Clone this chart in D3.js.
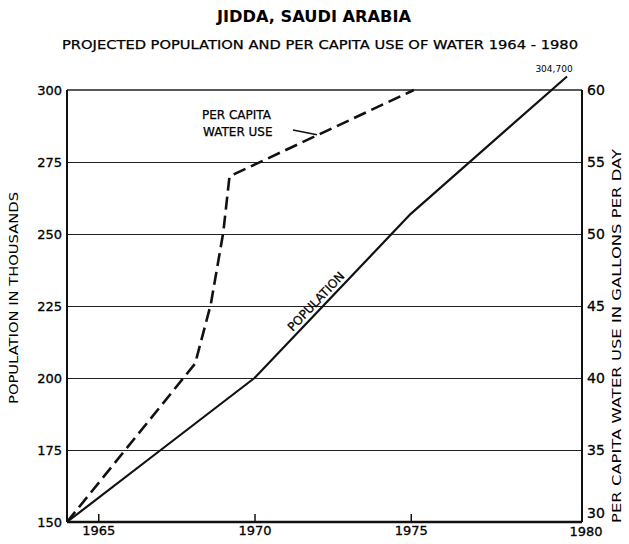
<!DOCTYPE html>
<html>
<head>
<meta charset="utf-8">
<script src="https://cdn.jsdelivr.net/npm/d3@7"></script>
<style>
  body { margin: 0; background: #fff; }
  text { font-family: "DejaVu Sans", "Liberation Sans", sans-serif; fill: #000; }
</style>
</head>
<body>
<svg id="chart"></svg>
<script>
// data
const popYears  = [1964, 1967, 1970, 1975, 1980];
const population = [150, 175, 200, 257, 304.7];          // thousands
const waterYears = [1964, 1968.1, 1968.6, 1969.0, 1969.2, 1975.1];
const waterUse   = [30, 41, 45.1, 50.1, 54, 60];          // gallons per day
const popTicks   = [150, 175, 200, 225, 250, 275, 300];
const waterTicks = [30, 35, 40, 45, 50, 55, 60];
const yearTicks  = [1965, 1970, 1975];

const W = 629, H = 544;
const margin = {top: 90, right: 47, bottom: 22, left: 67};

const svg = d3.select('#chart')
    .attr("width", W)
    .attr("height", H);

// x goes a little past 1980 so the frame reaches the right axis
var x = d3.scaleLinear().domain([1964, 1980.48]).range([margin.left, W - margin.right]);
var yPop = d3.scaleLinear().domain([150, 300]).range([H - margin.bottom, margin.top]);
var yWat = d3.scaleLinear().domain([30, 60]).range([H - margin.bottom, margin.top]);

const x0 = x.range()[0], x1 = x.range()[1];
const yb = yPop.range()[0], yt = yPop.range()[1];

// titles
svg.append("text")
    .attr("x", 314).attr("y", 22)
    .attr("text-anchor", "middle")
    .attr("font-size", 16).attr("font-weight", "bold")
    .attr("textLength", 194).attr("lengthAdjust", "spacingAndGlyphs")
    .text("JIDDA, SAUDI ARABIA");
svg.append("text")
    .attr("x", 320).attr("y", 49)
    .attr("text-anchor", "middle")
    .attr("font-size", 12)
    .attr("stroke", "#000").attr("stroke-width", 0.25)
    .attr("textLength", 516).attr("lengthAdjust", "spacingAndGlyphs")
    .text("PROJECTED  POPULATION  AND  PER  CAPITA  USE  OF  WATER  1964 - 1980");

// gridlines
svg.append("g")
    .selectAll("line")
    .data(popTicks.slice(1, -1))
    .enter().append("line")
    .attr("x1", x0).attr("x2", x1)
    .attr("y1", d => Math.round(yPop(d)) + 0.5).attr("y2", d => Math.round(yPop(d)) + 0.5)
    .attr("stroke", "#222").attr("stroke-width", 1);

// frame
svg.append("line").attr("x1", x0).attr("x2", x1).attr("y1", yt).attr("y2", yt)
    .attr("stroke", "#222").attr("stroke-width", 1.5);
svg.append("line").attr("x1", x1).attr("x2", x1).attr("y1", yt).attr("y2", yb)
    .attr("stroke", "#111").attr("stroke-width", 2);
svg.append("line").attr("x1", x0).attr("x2", x0).attr("y1", yt).attr("y2", yb)
    .attr("stroke", "#111").attr("stroke-width", 2);
svg.append("line").attr("x1", x0).attr("x2", x1).attr("y1", yb).attr("y2", yb)
    .attr("stroke", "#111").attr("stroke-width", 2.5);

// bottom axis (ticks point into the plot)
const xAxis = svg.append("g")
    .attr("transform", "translate(0," + yb + ")")
    .call(d3.axisBottom(x).tickValues(yearTicks).tickFormat(d3.format("d")).tickSize(-8).tickPadding(4));
xAxis.select(".domain").remove();
xAxis.selectAll("line").attr("stroke", "#111").attr("stroke-width", 1.5);
xAxis.selectAll("text").attr("font-size", 13).attr("fill", "#000")
    .attr("stroke", "#000").attr("stroke-width", 0.3)
    .attr("font-family", "DejaVu Sans");
svg.append("text")
    .attr("x", x1 + 4).attr("y", yb + 14)
    .attr("text-anchor", "middle").attr("font-size", 13)
    .attr("stroke", "#000").attr("stroke-width", 0.3)
    .text("1980");

// left axis labels
svg.append("g")
    .selectAll("text")
    .data(popTicks)
    .enter().append("text")
    .attr("x", x0 - 5)
    .attr("y", d => yPop(d))
    .attr("dy", "0.35em")
    .attr("text-anchor", "end")
    .attr("font-size", 13)
    .attr("stroke", "#000").attr("stroke-width", 0.3)
    .text(d => d);

// right axis labels
svg.append("g")
    .selectAll("text")
    .data(waterTicks)
    .enter().append("text")
    .attr("x", x1 + 5)
    .attr("y", d => d == 30 ? yWat(d) - 9 : yWat(d))
    .attr("dy", "0.35em")
    .attr("font-size", 14)
    .attr("stroke", "#000").attr("stroke-width", 0.3)
    .text(d => d);

// axis titles
svg.append("text")
    .attr("transform", "translate(18,298) rotate(-90)")
    .attr("text-anchor", "middle")
    .attr("font-size", 12)
    .attr("textLength", 212).attr("lengthAdjust", "spacingAndGlyphs")
    .text("POPULATION IN THOUSANDS");
svg.append("text")
    .attr("transform", "translate(621,336) rotate(-90)")
    .attr("text-anchor", "middle")
    .attr("font-size", 12)
    .attr("textLength", 374).attr("lengthAdjust", "spacingAndGlyphs")
    .text("PER CAPITA WATER USE  IN  GALLONS PER DAY");

// population line
const popData = popYears.map((d, i) => ({year: d, value: population[i]}));
svg.append("path")
    .datum(popData)
    .attr("fill", "none")
    .attr("stroke", "#111")
    .attr("stroke-width", 2.2)
    .attr("stroke-linejoin", "round")
    .attr("d", d3.line()
        .x(function(d) { return x(d.year) })
        .y(function(d) { return yPop(d.value) })
    );

// water use line
const watData = waterYears.map((d, i) => ({year: d, value: waterUse[i]}));
svg.append("path")
    .datum(watData)
    .attr("fill", "none")
    .attr("stroke", "#111")
    .attr("stroke-width", 2.6)
    .attr("stroke-dasharray", "13,6")
    .attr("d", d3.line()
        .x(function(d) { return x(d.year) })
        .y(function(d) { return yWat(d.value) })
    );

// end label for population
const last = popData[popData.length - 1];
svg.append("text")
    .attr("x", x(last.year) - 13).attr("y", yPop(last.value) - 4)
    .attr("text-anchor", "middle")
    .attr("font-size", 9)
    .text("304,700");

// label along the population line
const a = popData[2], b = popData[3];
const ang = Math.atan2(yPop(b.value) - yPop(a.value), x(b.year) - x(a.year)) * 180 / Math.PI;
svg.append("text")
    .attr("transform", "translate(" + (x(1972) + 2) + "," + (yPop(222.8) - 8) + ") rotate(" + ang + ")")
    .attr("text-anchor", "middle")
    .attr("font-size", 12)
    .attr("stroke", "#000").attr("stroke-width", 0.25)
    .text("POPULATION");

// label for water use with a leader
svg.append("text")
    .attr("x", 202).attr("y", 119)
    .attr("font-size", 12)
    .attr("stroke", "#000").attr("stroke-width", 0.25)
    .text("PER CAPITA");
svg.append("text")
    .attr("x", 203).attr("y", 136)
    .attr("font-size", 12)
    .attr("stroke", "#000").attr("stroke-width", 0.25)
    .text("WATER USE");
svg.append("line")
    .attr("x1", 293).attr("y1", 130)
    .attr("x2", x(1972)).attr("y2", yWat(56.9))
    .attr("stroke", "#111").attr("stroke-width", 1.5);
</script>
</body>
</html>
